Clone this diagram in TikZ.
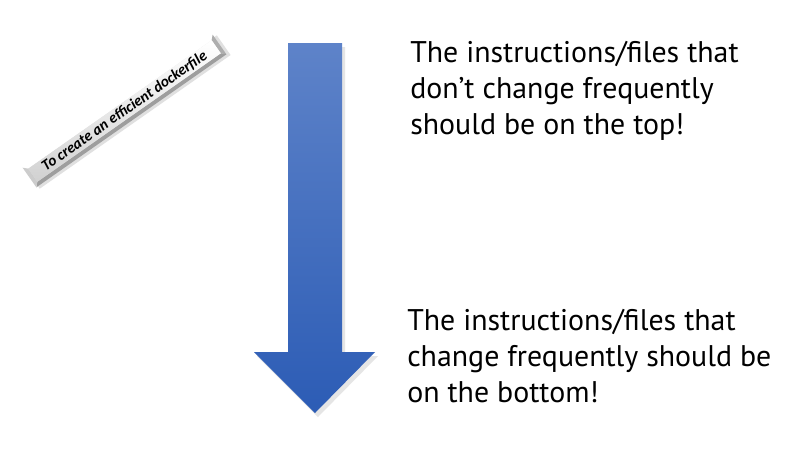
\documentclass[tikz,border=0pt]{standalone}
\usepackage{fontspec}
\setmainfont{PT Sans}
\newfontfamily\bannerfont{Carlito}
\definecolor{arrowtop}{HTML}{5E83C9}
\definecolor{arrowbot}{HTML}{2C5CB5}
\tikzset{
  note/.style={align=left, inner sep=0pt, anchor=base west,
    font=\fontsize{22.4}{27}\selectfont, text=black},
  bannertext/.style={inner sep=0pt, rotate=35,
    font=\bannerfont\bfseries\itshape\fontsize{11.5}{12}\selectfont}
}
\begin{document}
\begin{tikzpicture}[x=0.75pt,y=-0.75pt]
\useasboundingbox (0,0) rectangle (800,450);
\fill[white] (0,0) rectangle (800,450);

% downward arrow
\fill[black!10] (291,47) -- (345,47) -- (345,356) -- (378,356) -- (318,417) -- (257,356) -- (291,356) -- cycle;
\shade[top color=arrowtop, bottom color=arrowbot]
  (288,43) -- (342,43) -- (342,352) -- (375,352) -- (315,413) -- (254,352) -- (288,352) -- cycle;

% bevelled banner
\begin{scope}[shift={(124.5,111)}, rotate=35]
  \fill[black!12] (-114,-9) rectangle (119,15);
  \fill[white]   (-116,-12) -- (116,-12) -- (112,-8) -- (-112,-8) -- cycle;
  \fill[black!32] (116,-12) -- (116,12) -- (112,8) -- (112,-8) -- cycle;
  \fill[black!38] (116,12) -- (-116,12) -- (-112,8) -- (112,8) -- cycle;
  \fill[black!20] (-116,12) -- (-116,-12) -- (-112,-8) -- (-112,8) -- cycle;
  \shade[top color=white, bottom color=black!18] (-112,-8) rectangle (112,8);
\end{scope}
\node[bannertext] (banner) at (124.5,111) {To create an efficient dockerfile};

% notes beside the arrow (anchored at the baseline of the last line)
\node[note] (toptext) at (410,134) {The instructions/files that\\don’t change frequently\\should be on the top!};
\node[note] (bottomtext) at (407,402) {The instructions/files that\\change frequently should be\\on the bottom!};
\end{tikzpicture}
\end{document}
